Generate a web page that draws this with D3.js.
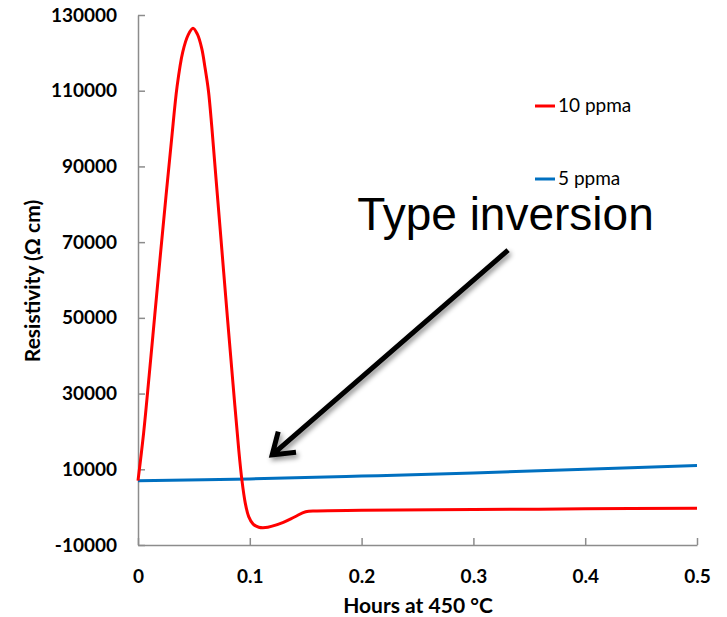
<!DOCTYPE html>
<meta charset="utf-8">
<style>
body { margin: 0; background: #fff; }
.axis path, .axis line { stroke: #8c8c8c; stroke-width: 1.5px; }
.axis text { font-family: Lato, "Open Sans", sans-serif; font-weight: bold; font-size: 19px; fill: #000; }
.legend text { font-family: Lato, "Open Sans", sans-serif; font-size: 19px; fill: #000; }
.title { font-family: Lato, "Open Sans", sans-serif; font-weight: bold; fill: #000; }
</style>
<body>
<svg width="727" height="617" id="chart"></svg>
<script src="https://d3js.org/d3.v7.min.js"></script>
<script>

// hours at 450 C
var redHours = [0, 0.005, 0.01, 0.015, 0.02, 0.025, 0.03, 0.035, 0.04, 0.045, 0.0492, 0.053, 0.057, 0.06, 0.063,
    0.066, 0.07, 0.075, 0.08, 0.085, 0.09, 0.093, 0.096, 0.099, 0.103, 0.108, 0.114, 0.12, 0.13, 0.14, 0.15,
    0.16, 0.2, 0.3, 0.4, 0.5];
var redRes = [7000, 19500, 34800, 50700, 66600, 82000, 97000, 111200, 120200, 124800, 126500, 125000, 121200, 116000, 110000,
    100500, 86000, 68000, 50000, 32500, 15500, 7000, 1000, -2500, -4500, -5300, -5400, -5000, -4000, -2600, -1200,
    -1000, -850, -650, -450, -300];

var blueHours = [0, 0.1, 0.2, 0.3, 0.4, 0.5];
var blueRes = [7000, 7450, 8200, 9050, 10000, 11000];

var xTicks = [0, 0.1, 0.2, 0.3, 0.4, 0.5];
var yTicks = [-10000, 10000, 30000, 50000, 70000, 90000, 110000, 130000];

var seriesNames = ["10 ppma", "5 ppma"];
var seriesColors = ["#ff0000", "#0070c0"];

var svg = d3.select("svg"),
    margin = {top: 15, right: 30, bottom: 72, left: 138},
    width = +svg.attr("width") - margin.left - margin.right,
    height = +svg.attr("height") - margin.top - margin.bottom;

var defs = svg.append("defs");
var shadow = defs.append("filter").attr("id", "shadow")
    .attr("x", "-20%").attr("y", "-20%").attr("width", "140%").attr("height", "140%");
shadow.append("feDropShadow")
    .attr("dx", 2).attr("dy", 3).attr("stdDeviation", 2.5)
    .attr("flood-color", "#000").attr("flood-opacity", 0.45);

var g = svg.append("g").attr("transform", "translate(" + margin.left + "," + margin.top + ")");

var x = d3.scaleLinear().domain([0, 0.5]).range([0, width]);
var y = d3.scaleLinear().domain([-10000, 130000]).range([height, 0]);

g.append("g")
    .attr("class", "axis")
    .attr("transform", "translate(0," + height + ")")
    .call(d3.axisBottom(x).tickValues(xTicks).tickSizeInner(-7).tickSizeOuter(0).tickPadding(25)
        .tickFormat(function(d) { return d === 0 ? "0" : d3.format(".1f")(d); }));

// plain hyphen for the negative label, like the original
g.append("g")
    .attr("class", "axis")
    .call(d3.axisLeft(y).tickValues(yTicks).tickSizeInner(-7).tickSizeOuter(0).tickPadding(21)
        .tickFormat(function(d) { return String(d); }));

var line = d3.line()
    .x(function(d) { return x(d[0]); })
    .y(function(d) { return y(d[1]); })
    .curve(d3.curveCatmullRom.alpha(0.5));

var blueData = blueHours.map(function(h, i) { return [h, blueRes[i]]; });
var redData = redHours.map(function(h, i) { return [h, redRes[i]]; });

g.append("path").datum(blueData)
    .attr("d", line)
    .attr("fill", "none")
    .attr("stroke", seriesColors[1])
    .attr("stroke-width", 3);

g.append("path").datum(redData)
    .attr("d", line)
    .attr("fill", "none")
    .attr("stroke", seriesColors[0])
    .attr("stroke-width", 3);

// legend
var legend = g.append("g").attr("class", "legend");
[0, 1].forEach(function(i) {
    var ly = 91 + i * 73;
    legend.append("line")
        .attr("x1", 397).attr("x2", 417)
        .attr("y1", ly).attr("y2", ly)
        .attr("stroke", seriesColors[i]).attr("stroke-width", 3);
    legend.append("text")
        .attr("x", 420).attr("y", ly)
        .attr("dy", "0.33em")
        .text(seriesNames[i]);
});

// annotation
var arrowFrom = [0.331, 67900], arrowTo = [0.12, 13800];
var x0 = x(arrowFrom[0]), y0 = y(arrowFrom[1]), x1 = x(arrowTo[0]), y1 = y(arrowTo[1]);
var ang = Math.atan2(y1 - y0, x1 - x0), armLen = 24, spread = 0.6;
var arrow = g.append("g").attr("filter", "url(#shadow)");
arrow.append("path")
    .attr("d", "M" + x0 + "," + y0 + "L" + x1 + "," + y1 +
        "M" + (x1 - armLen * Math.cos(ang - spread)) + "," + (y1 - armLen * Math.sin(ang - spread)) +
        "L" + x1 + "," + y1 +
        "L" + (x1 - armLen * Math.cos(ang + spread)) + "," + (y1 - armLen * Math.sin(ang + spread)))
    .attr("fill", "none")
    .attr("stroke", "#000")
    .attr("stroke-width", 5)
    .attr("stroke-linejoin", "miter");

g.append("text")
    .attr("x", x(0.196)).attr("y", y(73300))
    .attr("font-family", "'Liberation Sans', Arial, sans-serif")
    .attr("font-size", 46)
    .attr("fill", "#000")
    .text("Type inversion");

// axis titles
svg.append("text")
    .attr("class", "title")
    .attr("x", 418)
    .attr("y", 613)
    .attr("text-anchor", "middle")
    .attr("font-size", 21)
    .text("Hours at 450 °C");

svg.append("text")
    .attr("class", "title")
    .attr("transform", "translate(40,281) rotate(-90)")
    .attr("text-anchor", "middle")
    .attr("font-size", 21)
    .text("Resistivity (Ω cm)");

</script>
</body>
